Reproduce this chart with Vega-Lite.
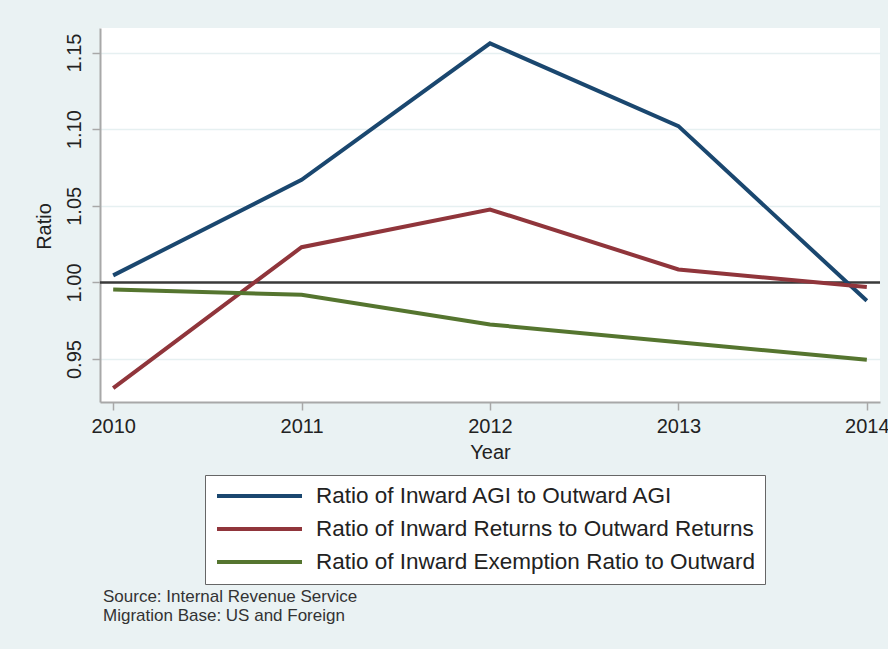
{
  "$schema": "https://vega.github.io/schema/vega-lite/v6.json",
  "width": 780,
  "height": 374,
  "autosize": {"type": "none"},
  "padding": {"left": 100, "top": 28, "right": 8, "bottom": 247},
  "background": "#eaf2f3",
  "config": {
    "view": {"fill": "white", "stroke": null},
    "font": "Liberation Sans",
    "axis": {
      "domainColor": "#a8a8a8",
      "domainWidth": 2,
      "tickColor": "#a8a8a8",
      "tickWidth": 1.5,
      "tickSize": 8,
      "labelFontSize": 20,
      "labelColor": "#222222",
      "titleFontSize": 20,
      "titleFontWeight": "normal",
      "titleColor": "#222222",
      "gridColor": "#e6f0f1",
      "gridWidth": 1.5
    }
  },
  "title": {
    "text": ["Source: Internal Revenue Service", "Migration Base: US and Foreign"],
    "orient": "bottom",
    "anchor": "start",
    "frame": "group",
    "offset": 4,
    "dx": 3,
    "fontSize": 17,
    "fontWeight": "normal",
    "color": "#333333",
    "lineHeight": 19
  },
  "layer": [
    {
      "data": {"values": [{"ref": 1.0}]},
      "mark": {"type": "rule", "color": "#3a3a3a", "strokeWidth": 2.5},
      "encoding": {
        "y": {"field": "ref", "type": "quantitative", "scale": {"domain": [0.922, 1.166], "nice": false, "zero": false}}
      }
    },
    {
      "data": {
        "values": [
          {"year": 2010, "series": "Ratio of Inward AGI to Outward AGI", "ratio": 1.0046},
          {"year": 2011, "series": "Ratio of Inward AGI to Outward AGI", "ratio": 1.067},
          {"year": 2012, "series": "Ratio of Inward AGI to Outward AGI", "ratio": 1.156},
          {"year": 2013, "series": "Ratio of Inward AGI to Outward AGI", "ratio": 1.102},
          {"year": 2014, "series": "Ratio of Inward AGI to Outward AGI", "ratio": 0.988},
          {"year": 2010, "series": "Ratio of Inward Returns to Outward Returns", "ratio": 0.931},
          {"year": 2011, "series": "Ratio of Inward Returns to Outward Returns", "ratio": 1.023},
          {"year": 2012, "series": "Ratio of Inward Returns to Outward Returns", "ratio": 1.0476},
          {"year": 2013, "series": "Ratio of Inward Returns to Outward Returns", "ratio": 1.0085},
          {"year": 2014, "series": "Ratio of Inward Returns to Outward Returns", "ratio": 0.997},
          {"year": 2010, "series": "Ratio of Inward Exemption Ratio to Outward", "ratio": 0.9954},
          {"year": 2011, "series": "Ratio of Inward Exemption Ratio to Outward", "ratio": 0.992},
          {"year": 2012, "series": "Ratio of Inward Exemption Ratio to Outward", "ratio": 0.9726},
          {"year": 2013, "series": "Ratio of Inward Exemption Ratio to Outward", "ratio": 0.961},
          {"year": 2014, "series": "Ratio of Inward Exemption Ratio to Outward", "ratio": 0.9495}
        ]
      },
      "mark": {"type": "line", "strokeWidth": 4},
      "encoding": {
        "x": {
          "field": "year",
          "type": "quantitative",
          "title": "Year",
          "scale": {"domain": [2009.93, 2014.07], "nice": false, "zero": false},
          "axis": {"values": [2010, 2011, 2012, 2013, 2014], "format": "d", "grid": false, "labelPadding": 6, "titlePadding": 6, "labelFlush": false}
        },
        "y": {
          "field": "ratio",
          "type": "quantitative",
          "title": "Ratio",
          "scale": {"domain": [0.922, 1.166], "nice": false, "zero": false},
          "axis": {"values": [0.95, 1.0, 1.05, 1.1, 1.15], "format": ".2f", "labelAngle": 270, "labelAlign": "center", "labelBaseline": "bottom", "labelPadding": 8, "titlePadding": 10, "titleY": 198, "labelFlush": false}
        },
        "color": {
          "field": "series",
          "type": "nominal",
          "scale": {
            "domain": ["Ratio of Inward AGI to Outward AGI", "Ratio of Inward Returns to Outward Returns", "Ratio of Inward Exemption Ratio to Outward"],
            "range": ["#1a476f", "#90353b", "#55752f"]
          },
          "legend": {
            "orient": "none",
            "legendX": 105,
            "legendY": 447,
            "title": null,
            "direction": "vertical",
            "strokeColor": "#666666",
            "fillColor": "white",
            "padding": 10,
            "symbolType": "stroke",
            "symbolSize": 7225,
            "symbolStrokeWidth": 4,
            "clipHeight": 22,
            "rowPadding": 10,
            "labelFontSize": 22.5,
            "labelColor": "#222222",
            "labelOffset": 12,
            "labelLimit": 700
          }
        }
      }
    }
  ]
}
